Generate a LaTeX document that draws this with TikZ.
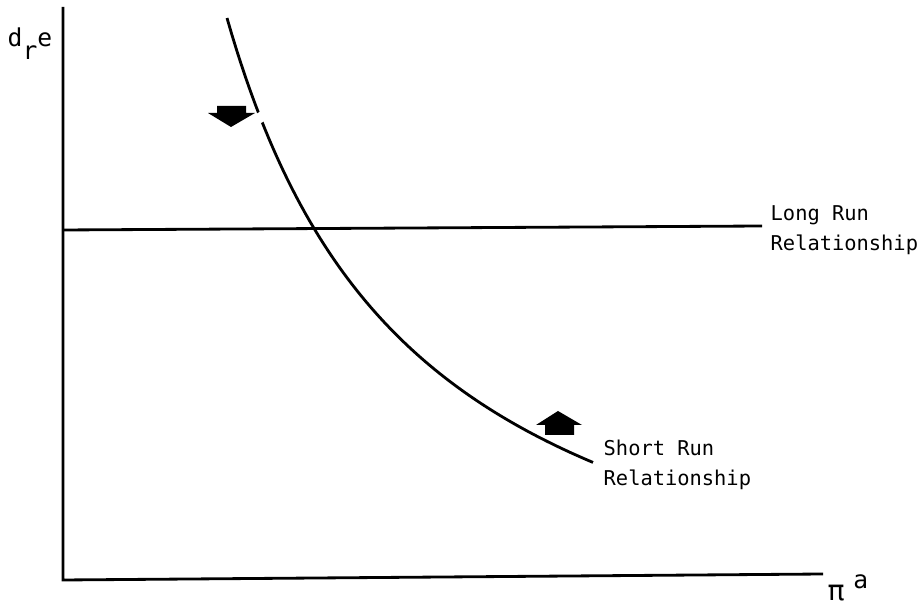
\documentclass[tikz,border=0pt]{standalone}
\usepackage{fontspec}
\newfontfamily\leroy{DejaVu Sans Mono}
\usetikzlibrary{positioning}
\tikzset{
    axisline/.style   = {line width=0.8pt},
    relcurve/.style   = {line width=0.8pt},
    beschr/.style     = {font=\leroy\fontsize{5.8}{8.6}\selectfont, align=left,
                         inner sep=0pt, anchor=north west},
    shiftarrow/.style = {fill=black}
}
\begin{document}
\begin{tikzpicture}[x=0.01cm, y=-0.01cm]
    \useasboundingbox (0,0) rectangle (918,607);

    % axes
    \coordinate (o) at (63,580);
    \coordinate (ytop) at (63,7);
    \coordinate (xend) at (823,574);
    \draw[axisline] (ytop) -- (o) -- (xend);
    \node[font=\leroy\fontsize{7}{8}\selectfont, anchor=base west, inner sep=0pt]
        (ylab) at (7,47) {d\raisebox{-3.5pt}{r}e};
    \node[font=\leroy\fontsize{8}{10}\selectfont, anchor=base west, inner sep=0pt]
        (xlab) at (827,601) {π\hspace{2.5pt}\raisebox{0.8ex}{\fontsize{7}{8}\selectfont a}};

    % long run
    \coordinate (lr1) at (63,230);
    \coordinate (lr2) at (762,226);
    \draw[axisline] (lr1) -- (lr2);
    \node[beschr] (lrlab) at (770,205) {Long Run\\Relationship};

    % short run
    \draw[relcurve] plot[domain=227:593, samples=80]
        (\x, {698.6 - 1323.71/(\x/100 - 0.325)});
    \draw[white, line width=3pt] (256,114) -- (261,123);
    \node[beschr] (srlab) at (603,439) {Short Run\\Relationship};

    % shift arrows
    \fill[shiftarrow] (217,106) -- (246,106) -- (246,113) -- (255,113) -- (231,127)
        -- (208,113) -- (217,113) -- cycle;
    \fill[shiftarrow] (545,435) -- (574,435) -- (574,425) -- (582,425) -- (558,411)
        -- (536,425) -- (545,425) -- cycle;
\end{tikzpicture}
\end{document}
